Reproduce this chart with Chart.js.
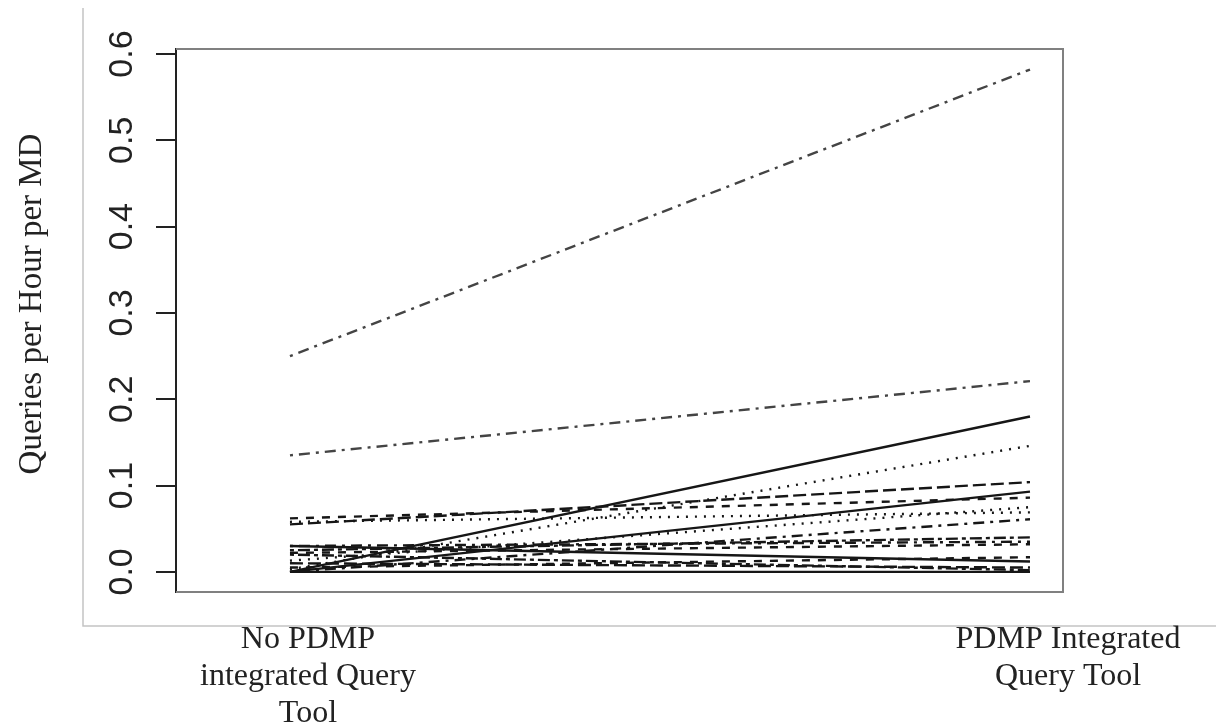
<!DOCTYPE html>
<html>
<head>
<meta charset="utf-8">
<script src="https://cdn.jsdelivr.net/npm/chart.js"></script>
<style>
  html, body { margin: 0; padding: 0; background: #fff; }
  #wrap { width: 1216px; height: 724px; }
</style>
</head>
<body>
<div id="wrap"><canvas id="chart" width="1216" height="724"></canvas></div>
<script>
// two conditions, one line per physician group
const conditions = ["No PDMP integrated Query Tool", "PDMP Integrated Query Tool"];
const conditionLabels = [
  ["No PDMP", "integrated Query", "Tool"],
  ["PDMP Integrated", "Query Tool"],
];
const yTicks = [0.0, 0.1, 0.2, 0.3, 0.4, 0.5, 0.6];
const yTitle = "Queries per Hour per MD";

const before = [0.250, 0.135, 0.000, 0.003, 0.055, 0.000, 0.062, 0.013, 0.058,
  0.000, 0.025, 0.030, 0.022, 0.030, 0.005, 0.010, 0.000, 0.020];
const after = [0.582, 0.221, 0.180, 0.146, 0.104, 0.093, 0.086, 0.075, 0.069,
  0.061, 0.040, 0.035, 0.032, 0.012, 0.017, 0.005, 0.000, 0.002];
const lineType = ["dotdash", "dotdash", "solid", "dotted", "longdash", "solid",
  "dashed", "dotted", "dotted", "dotdash", "twodash", "dotdash", "dashed",
  "solid", "dashed", "longdash", "solid", "twodash"];

const DASHES = {
  solid: [],
  dashed: [8, 8],
  dotted: [2, 7],
  dotdash: [3, 6, 11, 6],
  longdash: [13, 5],
  twodash: [4, 4, 12, 4],
};

const datasets = before.map((b, i) => ({
  data: [{ x: 1, y: b }, { x: 2, y: after[i] }],
  borderColor: i < 2 ? "#444" : "#161616",
  borderWidth: 2.4,
  borderDash: DASHES[lineType[i]],
  pointRadius: 0,
  tension: 0,
  fill: false,
}));

const rFrame = {
  id: "rFrame",
  afterDraw(chart) {
    const { ctx, chartArea: a, scales } = chart;
    const y = scales.y, x = scales.x;
    ctx.save();

    // page frame lines from the source document
    ctx.strokeStyle = "#c4c4c4";
    ctx.lineWidth = 1.5;
    ctx.beginPath();
    ctx.moveTo(83, 8);
    ctx.lineTo(83, 626);
    ctx.lineTo(1216, 626);
    ctx.stroke();

    // plot box
    ctx.strokeStyle = "#808080";
    ctx.lineWidth = 2;
    ctx.beginPath();
    ctx.moveTo(a.left, a.bottom);
    ctx.lineTo(a.right, a.bottom);
    ctx.lineTo(a.right, a.top);
    ctx.lineTo(a.left, a.top);
    ctx.stroke();

    // rotated tick labels
    ctx.fillStyle = "#222";
    ctx.font = "34px 'Liberation Sans', Arial, sans-serif";
    ctx.textAlign = "center";
    ctx.textBaseline = "alphabetic";
    yTicks.forEach((v) => {
      ctx.save();
      ctx.translate(132, y.getPixelForValue(v));
      ctx.rotate(-Math.PI / 2);
      ctx.fillText(v.toFixed(1), 0, 0);
      ctx.restore();
    });

    // y title
    ctx.font = "33px 'Liberation Serif', 'Times New Roman', serif";
    ctx.save();
    ctx.translate(41, 304);
    ctx.rotate(-Math.PI / 2);
    ctx.fillText(yTitle, 0, 0);
    ctx.restore();

    // condition labels under the plot
    ctx.font = "32px 'Liberation Serif', 'Times New Roman', serif";
    const centers = [x.getPixelForValue(1) + 18, x.getPixelForValue(2) + 38];
    conditionLabels.forEach((lines, i) => {
      lines.forEach((t, j) => ctx.fillText(t, centers[i], 648 + j * 37));
    });
    ctx.restore();
  },
};

new Chart(document.getElementById("chart").getContext("2d"), {
  type: "line",
  data: { datasets },
  options: {
    responsive: false,
    animation: false,
    layout: { padding: { top: 49, right: 153, bottom: 132, left: 0 } },
    plugins: { legend: { display: false }, tooltip: { enabled: false } },
    scales: {
      x: { type: "linear", display: false, min: 0.846, max: 2.0446 },
      y: {
        type: "linear",
        min: -0.0233,
        max: 0.6058,
        afterBuildTicks: (axis) => { axis.ticks = yTicks.map((v) => ({ value: v })); },
        afterFit: (axis) => { axis.width = 176; },
        ticks: { display: false },
        grid: { drawOnChartArea: false, drawTicks: true, tickLength: 20, color: "#222", lineWidth: 2 },
        border: { display: true, color: "#222", width: 2 },
      },
    },
  },
  plugins: [rFrame],
});
</script>
</body>
</html>
